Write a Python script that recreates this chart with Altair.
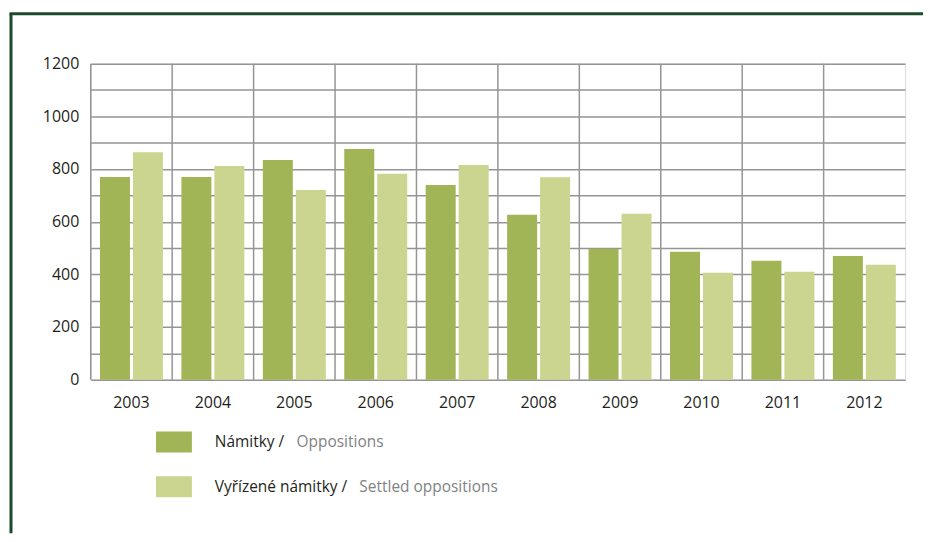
import altair as alt
import pandas as pd

years = ["2003", "2004", "2005", "2006", "2007", "2008", "2009", "2010", "2011", "2012"]
oppositions = [770, 770, 834, 876, 739, 626, 497, 486, 452, 470]
settled = [864, 811, 720, 782, 815, 769, 630, 406, 410, 436]
series_cz = ["Námitky", "Vyřízené námitky"]
series_en = ["Oppositions", "Settled oppositions"]
colors = ["#a2b556", "#cbd58f"]

rows = []
for i, yr in enumerate(years):
    rows.append({"year": yr, "series": series_cz[0], "value": oppositions[i]})
    rows.append({"year": yr, "series": series_cz[1], "value": settled[i]})
df = pd.DataFrame(rows)
df_years = pd.DataFrame({"year": years})
one = pd.DataFrame({"a": [0]})

FONT = "Open Sans"
GRID = "#959595"
DARK = "#231f20"
GREY = "#808285"
FRAME = "#1b4b2c"
W, H = 817, 317

x_scale = alt.Scale(paddingInner=0, paddingOuter=0)
x_axis = alt.Axis(title=None, labelAngle=0, grid=False, domain=False, ticks=False,
                  bandPosition=0.5, labelAlign="center", labelBaseline="top",
                  labelPadding=15, labelFontSize=16, labelColor=DARK, labelFont=FONT)
y_enc = alt.Y("value:Q", scale=alt.Scale(domain=[0, 1200], nice=False),
              axis=alt.Axis(title=None, values=list(range(0, 1300, 100)), format="d",
                            labelExpr="datum.value % 200 == 0 ? datum.label : ''",
                            grid=True, gridColor=GRID, gridWidth=1.5, domain=False, ticks=False,
                            labelPadding=12, labelFontSize=16, labelColor=DARK, labelFont=FONT))

vgrid = alt.Chart(df_years).mark_rule(color=GRID, strokeWidth=1.5).encode(
    x=alt.X("year:N", sort=years, bandPosition=0, scale=x_scale, axis=x_axis),
)

bars = alt.Chart(df).mark_bar().encode(
    x=alt.X("year:N", sort=years, scale=x_scale, axis=x_axis),
    xOffset=alt.XOffset("series:N", sort=series_cz,
                        scale=alt.Scale(paddingInner=0.09, paddingOuter=0.28)),
    y=y_enc,
    color=alt.Color("series:N", sort=series_cz,
                    scale=alt.Scale(domain=series_cz, range=colors), legend=None),
)

frame_left = alt.Chart(one).mark_rule(color=FRAME, strokeWidth=3).encode(
    x=alt.value(-80), y=alt.value(-50), y2=alt.value(471))
frame_top = alt.Chart(one).mark_rule(color=FRAME, strokeWidth=3).encode(
    x=alt.value(-81.5), x2=alt.value(835), y=alt.value(-50))

legend_layers = []
leg_y = [379.5, 424.5]
grey_x = [206.5, 269.5]
for i in range(2):
    legend_layers.append(
        alt.Chart(one).mark_rect(color=colors[i]).encode(
            x=alt.value(65.5), x2=alt.value(101.5),
            y=alt.value(leg_y[i] - 10.5), y2=alt.value(leg_y[i] + 10.5)))
    legend_layers.append(
        alt.Chart(one).mark_text(align="left", baseline="middle", font=FONT,
                                 fontSize=15.5, color=DARK).encode(
            x=alt.value(124.5), y=alt.value(leg_y[i]),
            text=alt.value(series_cz[i] + " /")))
    legend_layers.append(
        alt.Chart(one).mark_text(align="left", baseline="middle", font=FONT,
                                 fontSize=15.5, color=GREY).encode(
            x=alt.value(grey_x[i]), y=alt.value(leg_y[i]),
            text=alt.value(series_en[i])))

chart = alt.layer(vgrid, bars, frame_left, frame_top, *legend_layers).properties(
    width=W, height=H,
    padding={"left": 0, "top": 3, "right": 0, "bottom": 0},
).configure_view(stroke=GRID, strokeWidth=1.5).configure(background="white")

chart.save("out.html", embed_options={"renderer": "svg", "actions": False})
